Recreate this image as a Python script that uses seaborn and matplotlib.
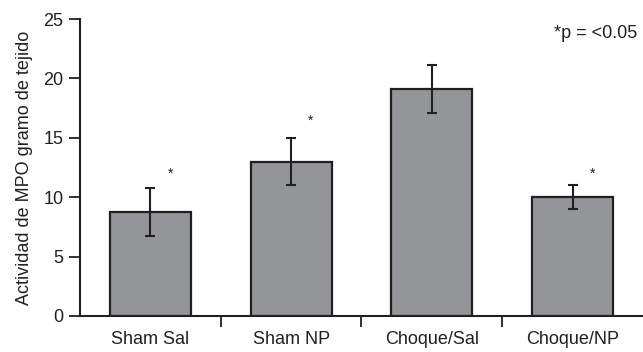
import matplotlib
matplotlib.use("Agg")
import matplotlib.pyplot as plt
import numpy as np
import pandas as pd
import seaborn as sns

# data
groups = ["Sham Sal", "Sham NP", "Choque/Sal", "Choque/NP"]
mpo = [8.75, 13.0, 19.1, 10.0]
err = [2.0, 2.0, 2.0, 1.0]
signif = [True, True, False, True]
star_y = [12.0, 16.4, None, 12.0]

sns.set_style("white")
plt.rcParams["font.family"] = ["Liberation Sans", "DejaVu Sans"]

df = pd.DataFrame({"grupo": groups, "mpo": mpo})

fig = plt.figure(figsize=(6.43, 3.52), dpi=100)
ax = fig.add_axes([0.1244, 0.1023, 0.8756, 0.8437])

sns.barplot(data=df, x="grupo", y="mpo", ax=ax, color="#939598",
            saturation=1, width=0.575, edgecolor="#231f20", linewidth=1.6,
            errorbar=None)
ax.errorbar(np.arange(len(groups)), mpo, yerr=err, fmt="none",
            ecolor="#231f20", elinewidth=1.5, capsize=3.6, capthick=1.5)

for i, s in enumerate(signif):
    if s:
        ax.text(i + 0.14, star_y[i], "*", ha="center", va="center",
                fontsize=10, color="#231f20")

ax.text(0.99, 0.95, "*p = <0.05", transform=ax.transAxes, ha="right",
        va="center", fontsize=13, color="#231f20")

ax.set_xlim(-0.5, 3.5)
ax.set_ylim(0, 25)
ax.set_yticks([0, 5, 10, 15, 20, 25])
ax.set_xlabel("")
ax.set_ylabel("Actividad de MPO gramo de tejido", fontsize=13,
              color="#231f20", labelpad=7)

sns.despine(ax=ax)
for sp in ("left", "bottom"):
    ax.spines[sp].set_color("#231f20")
    ax.spines[sp].set_linewidth(1.5)

ax.tick_params(axis="y", direction="out", length=8, width=1.3,
               colors="#231f20", labelsize=13, left=True, pad=4)
ax.tick_params(axis="x", length=0, labelsize=13, colors="#231f20", pad=11)
ax.set_xticks([0.5, 1.5, 2.5], minor=True)
ax.tick_params(axis="x", which="minor", direction="out", length=8,
               width=1.3, color="#231f20", bottom=True)

fig.savefig("out.png", dpi=100)
